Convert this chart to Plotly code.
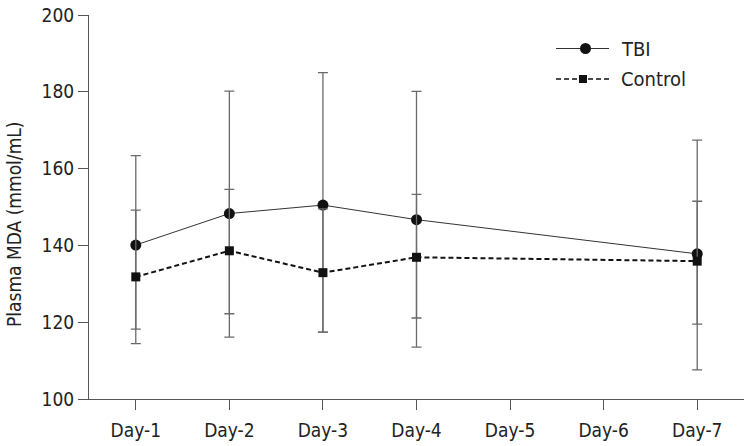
import plotly.graph_objects as go

days_all = ["Day-1", "Day-2", "Day-3", "Day-4", "Day-5", "Day-6", "Day-7"]
days_obs = ["Day-1", "Day-2", "Day-3", "Day-4", "Day-7"]

tbi_mean = [140.1, 148.3, 150.5, 146.7, 137.8]
tbi_upper = [163.4, 180.2, 185.0, 180.1, 167.4]
tbi_lower = [118.2, 116.1, 117.4, 113.5, 107.6]

ctl_mean = [131.8, 138.6, 132.9, 136.9, 135.9]
ctl_upper = [149.2, 154.6, 149.5, 153.3, 151.5]
ctl_lower = [114.4, 122.2, 117.4, 121.1, 119.5]

yticks = [100, 120, 140, 160, 180, 200]
series_names = ["TBI", "Control"]

FONT = "Liberation Sans Narrow, DejaVu Sans Condensed, Roboto, sans-serif"

W, H = 749, 446
ML, MR, MT, MB = 89, 5, 15, 47
PW, PH = W - ML - MR, H - MT - MB


def plus(u, m):
    return [a - b for a, b in zip(u, m)]


def minus(m, l):
    return [a - b for a, b in zip(m, l)]


def px(x):
    return (x - ML) / PW


def py(y):
    return (H - MB - y) / PH


fig = go.Figure()
fig.add_trace(go.Scatter(
    x=days_obs, y=tbi_mean, name=series_names[0], mode="lines+markers",
    line=dict(color="#333333", width=1),
    marker=dict(symbol="circle", size=11, color="#111111"),
    error_y=dict(type="data", symmetric=False,
                 array=plus(tbi_upper, tbi_mean),
                 arrayminus=minus(tbi_mean, tbi_lower),
                 color="#6a6a6a", thickness=1.3, width=5),
))
fig.add_trace(go.Scatter(
    x=days_obs, y=ctl_mean, name=series_names[1], mode="lines+markers",
    line=dict(color="#111111", width=2, dash="5px,3px"),
    marker=dict(symbol="square", size=9, color="#111111"),
    error_y=dict(type="data", symmetric=False,
                 array=plus(ctl_upper, ctl_mean),
                 arrayminus=minus(ctl_mean, ctl_lower),
                 color="#6a6a6a", thickness=1.3, width=5),
))

# custom legend (sample line + marker + label)
leg_x0, leg_x1, leg_text_x = 556, 609, 619
leg_rows = [48.5, 79.0]
shapes = [
    dict(type="line", xref="paper", yref="paper",
         x0=px(leg_x0), x1=px(leg_x1), y0=py(leg_rows[0]), y1=py(leg_rows[0]),
         line=dict(color="#333333", width=1)),
    dict(type="circle", xref="paper", yref="paper",
         xsizemode="pixel", ysizemode="pixel",
         xanchor=px(585.5), yanchor=py(leg_rows[0]),
         x0=-5.5, x1=5.5, y0=-5.5, y1=5.5,
         fillcolor="#111111", line=dict(color="#111111", width=0)),
    dict(type="line", xref="paper", yref="paper",
         x0=px(leg_x0), x1=px(leg_x1), y0=py(leg_rows[1]), y1=py(leg_rows[1]),
         line=dict(color="#111111", width=1.5, dash="5px,3px")),
    dict(type="rect", xref="paper", yref="paper",
         xsizemode="pixel", ysizemode="pixel",
         xanchor=px(583), yanchor=py(leg_rows[1]),
         x0=-4, x1=4, y0=-4, y1=4,
         fillcolor="#111111", line=dict(color="#111111", width=0)),
]

annotations = [dict(text="Plasma MDA (mmol/mL)", xref="paper", yref="paper",
                    x=px(14), y=py(225), xanchor="center", yanchor="middle",
                    textangle=-90, showarrow=False,
                    font=dict(family=FONT, size=19, color="#222222"))]
for name, row in zip(series_names, leg_rows):
    annotations.append(dict(text=name, xref="paper", yref="paper",
                            x=px(leg_text_x), y=py(row), xanchor="left",
                            yanchor="middle", showarrow=False,
                            font=dict(family=FONT, size=20, color="#222222")))

fig.update_layout(
    width=W, height=H,
    margin=dict(l=ML, r=MR, t=MT, b=MB),
    paper_bgcolor="white", plot_bgcolor="white",
    font=dict(family=FONT, size=18, color="#222222"),
    showlegend=False,
    xaxis=dict(type="category", categoryorder="array", categoryarray=days_all,
               range=[-0.5, 6.5], showline=True, linecolor="#555555", linewidth=1,
               ticks="outside", ticklen=10, tickcolor="#555555", showgrid=False,
               zeroline=False, ticklabelstandoff=4,
               tickfont=dict(family=FONT, size=19, color="#222222")),
    yaxis=dict(range=[100, 200], tickvals=yticks, showline=True, linecolor="#555555",
               linewidth=1, ticks="outside", ticklen=10, tickcolor="#555555",
               showgrid=False, zeroline=False,
               tickfont=dict(family=FONT, size=19, color="#222222")),
    shapes=shapes,
    annotations=annotations,
)

fig.write_html("out.html", config={"displayModeBar": False},
               post_script="document.body.style.margin='0';")
